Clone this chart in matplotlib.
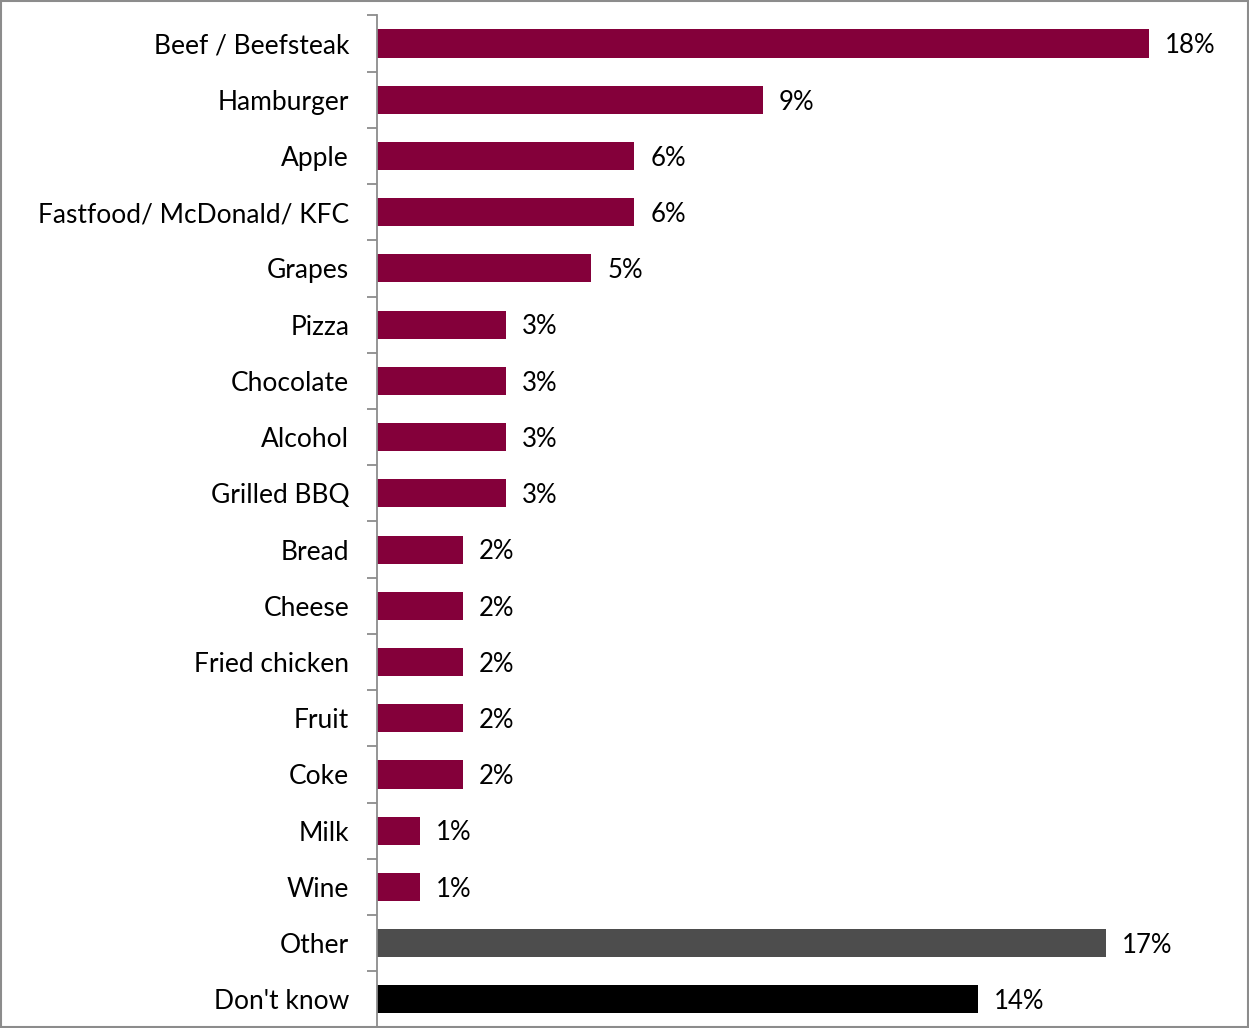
import matplotlib.pyplot as plt
from matplotlib.patches import Rectangle

categories = ["Beef / Beefsteak", "Hamburger", "Apple", "Fastfood/ McDonald/ KFC",
              "Grapes", "Pizza", "Chocolate", "Alcohol", "Grilled BBQ", "Bread",
              "Cheese", "Fried chicken", "Fruit", "Coke", "Milk", "Wine",
              "Other", "Don't know"]
values = [18, 9, 6, 6, 5, 3, 3, 3, 3, 2, 2, 2, 2, 2, 1, 1, 17, 14]
colors = ["#84003A"] * 16 + ["#4D4D4D", "#000000"]

plt.rcParams['font.family'] = ['Lato', 'DejaVu Sans']

fig = plt.figure(figsize=(12.49, 10.28), dpi=100)
ax = fig.add_axes([0.3018, 0.0005, 0.687, 0.9845])

ypos = list(range(len(categories)))
ax.barh(ypos, values, height=0.5, color=colors)
for y, v in zip(ypos, values):
    ax.text(v + 0.37, y + 0.04, f"{v}%", va='center', ha='left', fontsize=18.5)

ax.set_xlim(0, 20)
ax.set_ylim(len(categories) - 0.5, -0.5)
ax.set_yticks(ypos)
ax.set_yticklabels(categories, fontsize=19)
ax.tick_params(axis='y', length=0, pad=20)
ax.set_yticks([i - 0.5 for i in range(len(categories) + 1)], minor=True)
ax.tick_params(axis='y', which='minor', length=7, width=1.3, color='#8C8C8C')
ax.set_xticks([])
for s in ['top', 'right', 'bottom']:
    ax.spines[s].set_visible(False)
ax.spines['left'].set_color('#8C8C8C')
ax.spines['left'].set_linewidth(1.3)

fig.patches.append(Rectangle((0.0008, 0.001), 0.9984, 0.998, transform=fig.transFigure,
                             fill=False, edgecolor='#8C8C8C', linewidth=1.5))

fig.savefig("out.png", dpi=100)
